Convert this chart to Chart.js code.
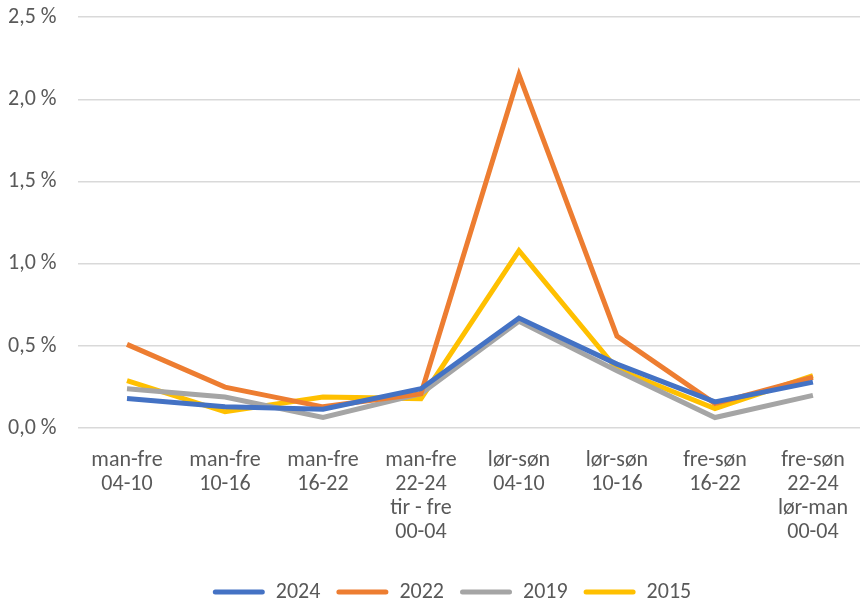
<!DOCTYPE html>
<html lang="no">
<head>
    <meta charset="UTF-8">
    <title>Andel per tidsrom</title>
    <style>
        html, body {
            margin: 0;
            padding: 0;
            background: #fff;
            overflow: hidden;
        }
        .wrap {
            position: relative;
            width: 868px;
            height: 605px;
        }
    </style>
</head>
<body>
    <div class="wrap">
        <canvas id="chart"></canvas>
    </div>
    <script src="https://cdn.jsdelivr.net/npm/chart.js"></script>
    <script>
        // tidsrom (x-akse)
        const categories = [
            ['man-fre', '04-10'],
            ['man-fre', '10-16'],
            ['man-fre', '16-22'],
            ['man-fre', '22-24', 'tir - fre', '00-04'],
            ['lør-søn', '04-10'],
            ['lør-søn', '10-16'],
            ['fre-søn', '16-22'],
            ['fre-søn', '22-24', 'lør-man', '00-04']
        ];

        // verdier i prosent
        const y2024 = [0.18, 0.13, 0.115, 0.24, 0.67, 0.39, 0.16, 0.28];
        const y2022 = [0.51, 0.25, 0.13, 0.21, 2.15, 0.56, 0.15, 0.31];
        const y2019 = [0.24, 0.19, 0.065, 0.21, 0.65, 0.35, 0.065, 0.20];
        const y2015 = [0.29, 0.10, 0.19, 0.18, 1.08, 0.36, 0.12, 0.32];

        const textColor = '#595959';
        const fontFamily = "Carlito, Calibri, Lato, 'Open Sans', sans-serif";

        function line(label, data, color) {
            return {
                label: label,
                data: data,
                borderColor: color,
                backgroundColor: color,
                borderWidth: 5,
                pointRadius: 0,
                tension: 0,
                fill: false
            };
        }

        // flytter legenden litt mot høyre, som i Excel-figuren
        const legendShift = {
            id: 'legendShift',
            afterLayout: function (chart) {
                chart.legend.left += 28;
            }
        };

        new Chart(document.getElementById('chart'), {
            type: 'line',
            data: {
                labels: categories,
                datasets: [
                    line('2024', y2024, '#4472C4'),
                    line('2022', y2022, '#ED7D31'),
                    line('2019', y2019, '#A5A5A5'),
                    line('2015', y2015, '#FFC000')
                ]
            },
            plugins: [legendShift],
            options: {
                responsive: true,
                maintainAspectRatio: false,
                animation: false,
                layout: {
                    padding: { top: 0, left: 8, right: 0, bottom: -8 }
                },
                plugins: {
                    tooltip: { enabled: false },
                    legend: {
                        position: 'bottom',
                        labels: {
                            color: textColor,
                            font: { family: fontFamily, size: 22 },
                            boxWidth: 52,
                            boxHeight: 5,
                            padding: 16,
                            useBorderRadius: true,
                            borderRadius: 2.5,
                            generateLabels: function (chart) {
                                const items = Chart.defaults.plugins.legend.labels.generateLabels(chart);
                                items.forEach(function (it) { it.lineWidth = 0; });
                                return items;
                            }
                        }
                    }
                },
                scales: {
                    x: {
                        offset: true,
                        grid: { display: false, drawTicks: false },
                        border: { display: false },
                        ticks: {
                            color: textColor,
                            font: { family: fontFamily, size: 22, lineHeight: 1.1 },
                            maxRotation: 0,
                            autoSkip: false,
                            padding: 20
                        }
                    },
                    y: {
                        min: 0,
                        max: 2.5,
                        grid: { color: '#D9D9D9', lineWidth: 1.5, drawTicks: false },
                        border: { display: false },
                        afterFit: function (scale) {
                            scale.width = 70;
                        },
                        ticks: {
                            stepSize: 0.5,
                            color: textColor,
                            font: { family: fontFamily, size: 22 },
                            padding: 4,
                            crossAlign: 'far',
                            callback: function (v) {
                                return v.toFixed(1).replace('.', ',') + ' %';
                            }
                        }
                    }
                }
            }
        });
    </script>
</body>
</html>
